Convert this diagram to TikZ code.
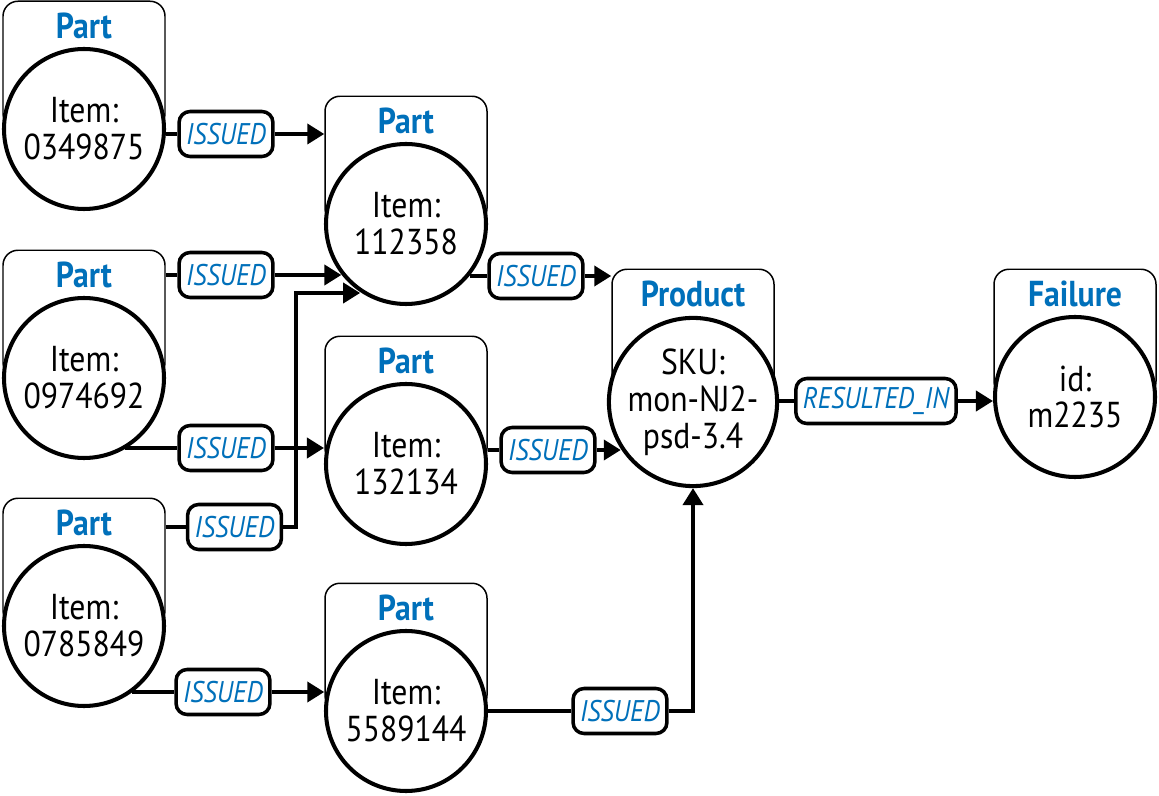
\documentclass[tikz,border=0pt]{standalone}
\usepackage{fontspec}
\setmainfont{PT Sans}[FakeStretch=0.88]
\usepackage{xcolor}
\usepackage{tikz}
\usetikzlibrary{arrows.meta,calc,positioning}
\definecolor{kindblue}{RGB}{0,112,186}
\newcommand{\entity}[5]{%
    \node[tab, minimum height=#3, anchor=south] (#1tab) at #2 {};
    \node[kind, yshift=-0.5cm] (#1kind) at (#1tab.north) {#4};
    \node[ent] (#1) at #2 {#5};}

\begin{document}
\begin{tikzpicture}[
    tab/.style={draw, line width=0.85pt, rounded corners=0.3cm, fill=white, minimum width=3.24cm, inner sep=0pt},
    kind/.style={text=kindblue, font=\fontsize{20.5}{21}\selectfont\bfseries},
    ent/.style={circle, draw, line width=2.3pt, fill=white, minimum size=3.2cm, inner sep=0pt, align=center, font=\fontsize{20.5}{21}\selectfont},
    rel/.style={draw, line width=2pt, rounded corners=0.22cm, fill=white, text=kindblue, inner xsep=0.14cm, minimum height=0.9cm, font=\fontsize{17}{18}\selectfont\itshape},
    conn/.style={line width=2.2pt},
    arr/.style={conn, -{Triangle[length=0.34cm,width=0.4cm]}}
]
    \useasboundingbox (0,0) rectangle (23.18,15.9);

    % LEFT: Parts that are issued
    \entity{p1}{(1.68,13.32)}{2.54cm}{Part}{Item:\\0349875}
    \entity{p2}{(1.68,8.34)}{2.54cm}{Part}{Item:\\0974692}
    \entity{p3}{(1.68,3.38)}{2.54cm}{Part}{Item:\\0785849}

    % MIDDLE: Parts
    \entity{p4}{(8.12,11.42)}{2.54cm}{Part}{Item:\\112358}
    \entity{p5}{(8.12,6.62)}{2.54cm}{Part}{Item:\\132134}
    \entity{p6}{(8.12,1.68)}{2.54cm}{Part}{Item:\\5589144}

    % RIGHT: Product and Failure
    \entity{prod}{(13.86,7.86)}{2.64cm}{Product}{SKU:\\mon-NJ2-\\psd-3.4}
    \entity{fail}{(21.5,7.96)}{2.54cm}{Failure}{id:\\m2235}

    % relationship labels
    \node[rel] (iss1) at (4.52,13.22) {ISSUED};
    \node[rel] (iss2) at (4.52,10.4) {ISSUED};
    \node[rel] (iss3) at (4.52,6.94) {ISSUED};
    \node[rel] (iss4) at (4.69,5.36) {ISSUED};
    \node[rel] (iss5) at (4.46,2.06) {ISSUED};
    \node[rel] (iss6) at (10.72,10.38) {ISSUED};
    \node[rel] (iss7) at (10.96,6.9) {ISSUED};
    \node[rel] (iss8) at (12.4,1.68) {ISSUED};
    \node[rel] (res) at (17.52,7.88) {RESULTED\_IN};
    \coordinate (jog) at (5.92,10.04);

    % connectors
    \draw[conn] (p1.east |- iss1) -- (iss1);
    \draw[arr] (iss1) -- (iss1 -| p4tab.west);
    \draw[conn] (iss2 -| p2tab.east) -- (iss2);
    \draw[arr] (iss2) -- (iss2 -| p4.218);
    \draw[conn] (p2.300 |- iss3) -- (iss3);
    \draw[arr] (iss3) -- (iss3 -| p5.west);
    \draw[conn] (iss4 -| p3tab.east) -- (iss4);
    \draw[arr] (iss4) -| (jog) -- (jog -| p4.236);
    \draw[conn] (p3.306 |- iss5) -- (iss5);
    \draw[arr] (iss5) -- (iss5 -| p6tab.west);
    \draw[conn] (p4.321 |- iss6) -- (iss6);
    \draw[arr] (iss6) -- (iss6 -| prodtab.west);
    \draw[conn] (p5.east |- iss7) -- (iss7);
    \draw[arr] (iss7) -- (iss7 -| prod.213);
    \draw[conn] (p6.east |- iss8) -- (iss8);
    \draw[arr] (iss8) -| (prod.south);
    \draw[conn] (prod.east |- res) -- (res);
    \draw[arr] (res) -- (res -| fail.west);
\end{tikzpicture}
\end{document}
